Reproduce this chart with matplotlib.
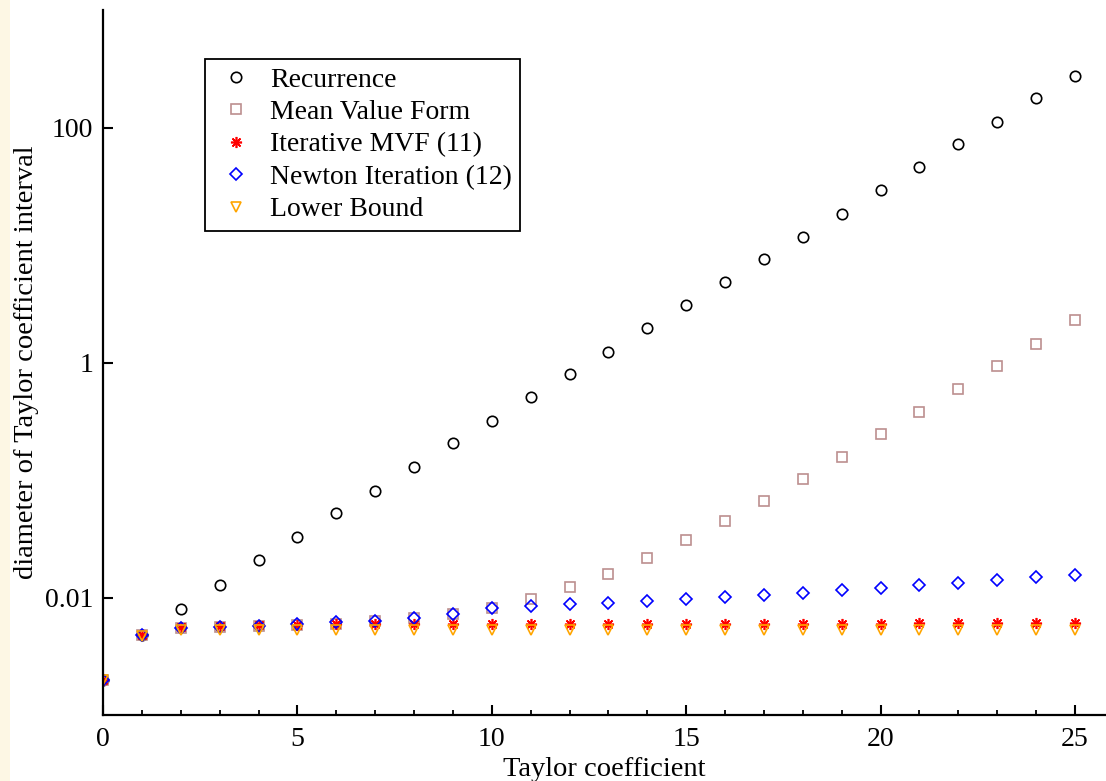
import numpy as np
import matplotlib.pyplot as plt
from matplotlib.patches import Rectangle

plt.rcParams['font.family'] = ['Liberation Serif', 'DejaVu Serif']

# Taylor coefficient index
order = np.arange(26)

# diameter of the enclosing interval for each method
recurrence = [0.00197, 0.00475, 0.0080, 0.0129, 0.0207, 0.0330, 0.0519, 0.0814,
              0.130, 0.205, 0.315, 0.504, 0.791, 1.24, 1.95, 3.06, 4.80, 7.53,
              11.8, 18.5, 29.1, 45.7, 71.7, 112, 177, 277]
mean_value = [0.00197, 0.00475, 0.00552, 0.0056, 0.0057, 0.0058, 0.0060, 0.0063,
              0.0067, 0.0073, 0.0082, 0.0098, 0.0122, 0.0157, 0.0215, 0.0306,
              0.0446, 0.0669, 0.102, 0.157, 0.244, 0.378, 0.592, 0.931, 1.45, 2.28]
iter_mvf = [0.00197, 0.00475, 0.0056, 0.0057, 0.0058, 0.0058, 0.0059, 0.0059,
            0.0059, 0.0059, 0.0059, 0.0059, 0.0059, 0.0059, 0.0060, 0.0060,
            0.0060, 0.0060, 0.0060, 0.0060, 0.0060, 0.0061, 0.0061, 0.0061,
            0.0061, 0.0061]
newton = [0.00197, 0.00475, 0.00552, 0.0056, 0.0057, 0.0059, 0.0062, 0.0063,
          0.0067, 0.0073, 0.0082, 0.00843, 0.00872, 0.00901, 0.00937, 0.00968,
          0.0101, 0.01055, 0.0110, 0.0115, 0.0121, 0.0127, 0.0133, 0.0140,
          0.0148, 0.0156]
lower_bound = [0.00197, 0.00470] + [0.0053] * 24

fig = plt.figure(figsize=(11.06, 7.81), dpi=100)
# cream strip down the left edge
fig.patches.append(Rectangle((0, 0), 10 / 1106, 1, transform=fig.transFigure,
                             facecolor='#fdf7e4', edgecolor='none', zorder=0))

ax = fig.add_axes([103 / 1106, 66 / 781, 1003 / 1106, 705 / 781])

ms = 7.5
mew = 1.2
ax.plot(order, recurrence, 'o', ls='none', ms=ms, mew=mew, mfc='none',
        mec='black', label='Recurrence')
ax.plot(order, mean_value, 's', ls='none', ms=ms, mew=mew, mfc='none',
        mec='#bc8f8f', label='Mean Value Form')
ax.plot(order, iter_mvf, marker=(8, 2, 0), ls='none', ms=8, mew=1.2,
        color='red', label='Iterative MVF (11)')
ax.plot(order, newton, 'D', ls='none', ms=6.5, mew=mew, mfc='none',
        mec='blue', label='Newton Iteration (12)')
ax.plot(order, lower_bound, 'v', ls='none', ms=ms, mew=mew, mfc='none',
        mec='orange', label='Lower Bound')

ax.set_yscale('log')
ax.set_ylim(1e-3, 1e3)
ax.set_xlim(0, 25.8)

ax.set_yticks([0.01, 1, 100])
ax.set_yticklabels(['0.01', '1', '100'])
ax.yaxis.set_minor_locator(plt.NullLocator())
ax.set_xticks([0, 5, 10, 15, 20, 25])
ax.set_xticks(np.arange(26), minor=True)

for side in ['top', 'right']:
    ax.spines[side].set_visible(False)
for side in ['left', 'bottom']:
    ax.spines[side].set_linewidth(1.6)

ax.tick_params(which='major', direction='in', length=7.2, width=1.5,
               labelsize=20)
ax.tick_params(axis='x', which='major', pad=9)
ax.tick_params(axis='y', which='major', pad=7)
ax.tick_params(which='minor', direction='in', length=3.6, width=1.3)

ax.set_xlabel('Taylor coefficient', fontsize=20.5, labelpad=3)
ax.set_ylabel('diameter of Taylor coefficient interval', fontsize=20.5,
              labelpad=4)

leg = ax.legend(loc='upper left', bbox_to_anchor=(205 / 1106, 1 - 59 / 781),
                bbox_transform=fig.transFigure, borderaxespad=0, fontsize=20,
                fancybox=False, framealpha=1, edgecolor='black',
                handlelength=1.6, handletextpad=0.43, labelspacing=0.25,
                borderpad=0.3)
leg.get_frame().set_linewidth(1.3)

fig.savefig('out.png', dpi=100)
